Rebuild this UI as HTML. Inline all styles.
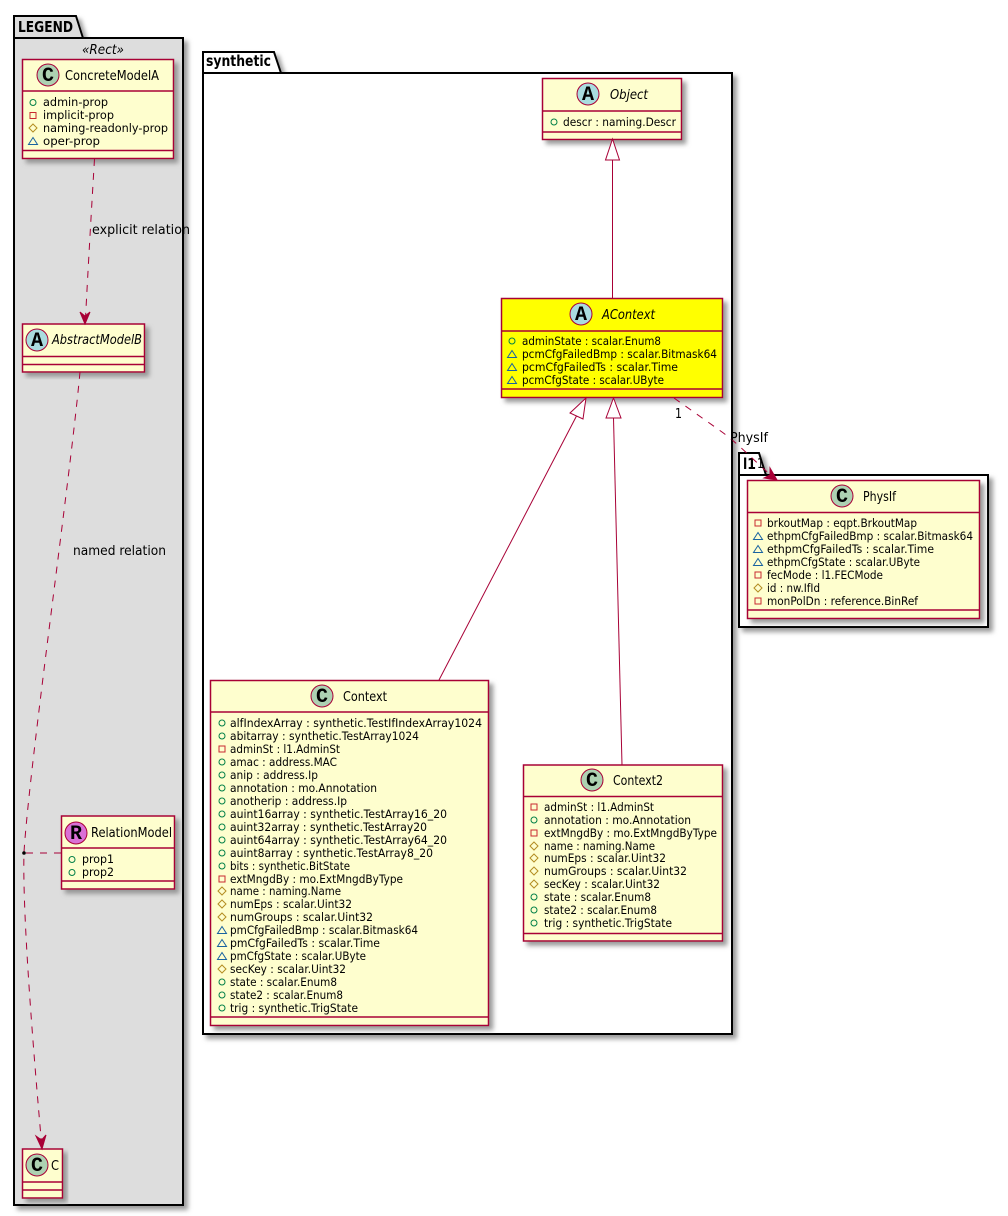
<!DOCTYPE html>
<html><head><meta charset="utf-8"><style>
html,body{margin:0;padding:0;background:#fff;width:1008px;height:1216px;overflow:hidden}
svg{display:block}
text{font-family:"DejaVu Sans",sans-serif;fill:#000}
.m text,text.m{font-size:11.500px}
.t{font-size:13.500px}
.i{font-style:italic}
.b{font-weight:bold;font-size:15px}
.cl{fill:#FEFECE;stroke:#A80036;stroke-width:1.5}
.dv{stroke:#A80036;stroke-width:1.5;fill:none}
.ln{stroke:#A80036;stroke-width:1;fill:none}
.da{stroke-dasharray:7 7}
.pk{stroke:#000;stroke-width:2}
.gl{font-family:"Liberation Mono",monospace;font-weight:bold;font-size:20px;text-anchor:middle}
</style></head><body>
<svg width="1008" height="1216" viewBox="0 0 1008 1216" xmlns="http://www.w3.org/2000/svg">
<defs>
<filter id="s" x="-10%" y="-10%" width="125%" height="125%"><feGaussianBlur in="SourceAlpha" stdDeviation="2.500"/><feOffset dx="4" dy="4"/><feColorMatrix type="matrix" values="0 0 0 0 0.25 0 0 0 0 0.25 0 0 0 0 0.25 0 0 0 0.85 0"/><feMerge><feMergeNode/><feMergeNode in="SourceGraphic"/></feMerge></filter>
<g id="p"><circle r="3" fill="none" stroke="#038048"/></g>
<g id="q"><rect x="-3" y="-3" width="6" height="6" fill="none" stroke="#C82930"/></g>
<g id="h"><path d="M0-4L4 0L0 4L-4 0Z" fill="none" stroke="#B38D22"/></g>
<g id="r"><path d="M0-3.5L4.5 3.5H-4.5Z" fill="none" stroke="#1963A0"/></g>
</defs>

<!-- LEGEND -->
<path class="pk" fill="#DDDDDD" filter="url(#s)" d="M14 38V16H76L83 38H183V1205H14Z"/>
<path class="pk" fill="none" d="M14 38H83"/>
<text class="b" x="18" y="32" textLength="55" lengthAdjust="spacingAndGlyphs">LEGEND</text>
<text class="t i" x="82" y="54" textLength="42" lengthAdjust="spacingAndGlyphs">«Rect»</text>

<!-- synthetic -->
<path class="pk" fill="#fff" filter="url(#s)" d="M203 73V52H274L281 73H732V1034H203Z"/>
<path class="pk" fill="none" d="M203 73H281"/>
<text class="b" x="206" y="66" textLength="65" lengthAdjust="spacingAndGlyphs">synthetic</text>

<!-- l1 -->
<path class="pk" fill="#fff" filter="url(#s)" d="M739 475V453H759L766 475H988V627H739Z"/>
<path class="pk" fill="none" d="M739 475H766"/>
<text class="b" x="743" y="469" textLength="13" lengthAdjust="spacingAndGlyphs">l1</text>

<!-- ConcreteModelA -->
<g filter="url(#s)"><rect class="cl" x="22.5" y="59.5" width="151" height="99"/></g>
<path class="dv" d="M22.5 91H173.500M22.500 150.500H173.500"/>
<circle cx="48" cy="75" r="11" fill="#ADD1B2" stroke="#A80036"/><text class="gl" x="48" y="81">C</text>
<text class="t" x="65" y="80" textLength="94" lengthAdjust="spacingAndGlyphs">ConcreteModelA</text>
<g class="m">
<use href="#p" x="33" y="102.500"/><text x="43" y="106" textLength="65" lengthAdjust="spacingAndGlyphs">admin-prop</text>
<use href="#q" x="33" y="115.500"/><text x="43" y="119" textLength="71" lengthAdjust="spacingAndGlyphs">implicit-prop</text>
<use href="#h" x="33" y="128"/><text x="43" y="132" textLength="125" lengthAdjust="spacingAndGlyphs">naming-readonly-prop</text>
<use href="#r" x="33" y="141"/><text x="43" y="145" textLength="57" lengthAdjust="spacingAndGlyphs">oper-prop</text>
</g>

<!-- AbstractModelB -->
<g filter="url(#s)"><rect class="cl" x="22.5" y="324" width="122" height="48"/></g>
<path class="dv" d="M22.500 356.500H144.500M22.500 364.500H144.500"/>
<circle cx="37" cy="340" r="11" fill="#A9DCDF" stroke="#A80036"/><text class="gl" x="37" y="346">A</text>
<text class="t i" x="52" y="344" textLength="90" lengthAdjust="spacingAndGlyphs">AbstractModelB</text>

<!-- RelationModel -->
<g filter="url(#s)"><rect class="cl" x="61.500" y="816" width="113" height="73"/></g>
<path class="dv" d="M61.500 848H174.500M61.500 881H174.500"/>
<circle cx="76" cy="833" r="11" fill="#DA70D6" stroke="#A80036"/><text class="gl" x="76" y="839">R</text>
<text class="t" x="91" y="837" textLength="81" lengthAdjust="spacingAndGlyphs">RelationModel</text>
<g class="m">
<use href="#p" x="72" y="859.500"/><text x="82" y="863" textLength="32" lengthAdjust="spacingAndGlyphs">prop1</text>
<use href="#p" x="72" y="872.500"/><text x="82" y="876" textLength="32" lengthAdjust="spacingAndGlyphs">prop2</text>
</g>

<!-- C -->
<g filter="url(#s)"><rect class="cl" x="22.500" y="1149" width="40" height="49"/></g>
<path class="dv" d="M22.500 1182H62.500M22.500 1190H62.500"/>
<circle cx="37" cy="1165" r="11" fill="#ADD1B2" stroke="#A80036"/><text class="gl" x="37" y="1171">C</text>
<text class="t" x="51" y="1170" textLength="8" lengthAdjust="spacingAndGlyphs">C</text>

<!-- Object -->
<g filter="url(#s)"><rect class="cl" x="542.500" y="78.500" width="139" height="61"/></g>
<path class="dv" d="M542.500 111H681.500M542.500 132H681.500"/>
<circle cx="588" cy="94" r="11" fill="#A9DCDF" stroke="#A80036"/><text class="gl" x="588" y="100">A</text>
<text class="t i" x="610" y="99" textLength="38" lengthAdjust="spacingAndGlyphs">Object</text>
<g class="m"><use href="#p" x="554" y="122"/><text x="563" y="126" textLength="113" lengthAdjust="spacingAndGlyphs">descr : naming.Descr</text></g>

<!-- AContext -->
<g filter="url(#s)"><rect x="501.500" y="298.500" width="221" height="99" fill="#FFFF00" stroke="#A80036" stroke-width="1.500"/></g>
<path class="dv" d="M501.500 331H722.500M501.500 389H722.500"/>
<circle cx="581" cy="314" r="11" fill="#A9DCDF" stroke="#A80036"/><text class="gl" x="581" y="320">A</text>
<text class="t i" x="602" y="319" textLength="53" lengthAdjust="spacingAndGlyphs">AContext</text>
<g class="m">
<use href="#p" x="512" y="341"/><text x="522" y="345" textLength="139" lengthAdjust="spacingAndGlyphs">adminState : scalar.Enum8</text>
<use href="#r" x="512" y="354"/><text x="522" y="358" textLength="195" lengthAdjust="spacingAndGlyphs">pcmCfgFailedBmp : scalar.Bitmask64</text>
<use href="#r" x="512" y="367"/><text x="522" y="371" textLength="156" lengthAdjust="spacingAndGlyphs">pcmCfgFailedTs : scalar.Time</text>
<use href="#r" x="512" y="380"/><text x="522" y="384" textLength="142" lengthAdjust="spacingAndGlyphs">pcmCfgState : scalar.UByte</text>
</g>

<!-- Context -->
<g filter="url(#s)"><rect class="cl" x="210.500" y="680.500" width="278" height="345"/></g>
<path class="dv" d="M210.500 712H488.500M210.500 1017H488.500"/>
<circle cx="322" cy="696" r="11" fill="#ADD1B2" stroke="#A80036"/><text class="gl" x="322" y="702">C</text>
<text class="t" x="343" y="701" textLength="44" lengthAdjust="spacingAndGlyphs">Context</text>
<g class="m">
<use href="#p" x="222" y="723"/><text x="230" y="727" textLength="252" lengthAdjust="spacingAndGlyphs">alfIndexArray : synthetic.TestIfIndexArray1024</text>
<use href="#p" x="222" y="736"/><text x="230" y="740" textLength="189" lengthAdjust="spacingAndGlyphs">abitarray : synthetic.TestArray1024</text>
<use href="#q" x="222" y="749"/><text x="230" y="753" textLength="110" lengthAdjust="spacingAndGlyphs">adminSt : l1.AdminSt</text>
<use href="#p" x="222" y="762"/><text x="230" y="766" textLength="107" lengthAdjust="spacingAndGlyphs">amac : address.MAC</text>
<use href="#p" x="222" y="775"/><text x="230" y="779" textLength="88" lengthAdjust="spacingAndGlyphs">anip : address.Ip</text>
<use href="#p" x="222" y="788"/><text x="230" y="792" textLength="147" lengthAdjust="spacingAndGlyphs">annotation : mo.Annotation</text>
<use href="#p" x="222" y="801"/><text x="230" y="805" textLength="117" lengthAdjust="spacingAndGlyphs">anotherip : address.Ip</text>
<use href="#p" x="222" y="814"/><text x="230" y="818" textLength="217" lengthAdjust="spacingAndGlyphs">auint16array : synthetic.TestArray16_20</text>
<use href="#p" x="222" y="827"/><text x="230" y="831" textLength="197" lengthAdjust="spacingAndGlyphs">auint32array : synthetic.TestArray20</text>
<use href="#p" x="222" y="840"/><text x="230" y="844" textLength="217" lengthAdjust="spacingAndGlyphs">auint64array : synthetic.TestArray64_20</text>
<use href="#p" x="222" y="853"/><text x="230" y="857" textLength="203" lengthAdjust="spacingAndGlyphs">auint8array : synthetic.TestArray8_20</text>
<use href="#p" x="222" y="866"/><text x="230" y="870" textLength="120" lengthAdjust="spacingAndGlyphs">bits : synthetic.BitState</text>
<use href="#q" x="222" y="879"/><text x="230" y="883" textLength="173" lengthAdjust="spacingAndGlyphs">extMngdBy : mo.ExtMngdByType</text>
<use href="#h" x="222" y="891"/><text x="230" y="895" textLength="111" lengthAdjust="spacingAndGlyphs">name : naming.Name</text>
<use href="#h" x="222" y="904"/><text x="230" y="908" textLength="122" lengthAdjust="spacingAndGlyphs">numEps : scalar.Uint32</text>
<use href="#h" x="222" y="917"/><text x="230" y="921" textLength="143" lengthAdjust="spacingAndGlyphs">numGroups : scalar.Uint32</text>
<use href="#r" x="222" y="930"/><text x="230" y="934" textLength="188" lengthAdjust="spacingAndGlyphs">pmCfgFailedBmp : scalar.Bitmask64</text>
<use href="#r" x="222" y="943"/><text x="230" y="947" textLength="150" lengthAdjust="spacingAndGlyphs">pmCfgFailedTs : scalar.Time</text>
<use href="#r" x="222" y="956"/><text x="230" y="960" textLength="136" lengthAdjust="spacingAndGlyphs">pmCfgState : scalar.UByte</text>
<use href="#h" x="222" y="969"/><text x="230" y="973" textLength="116" lengthAdjust="spacingAndGlyphs">secKey : scalar.Uint32</text>
<use href="#p" x="222" y="982"/><text x="230" y="986" textLength="107" lengthAdjust="spacingAndGlyphs">state : scalar.Enum8</text>
<use href="#p" x="222" y="995"/><text x="230" y="999" textLength="113" lengthAdjust="spacingAndGlyphs">state2 : scalar.Enum8</text>
<use href="#p" x="222" y="1008"/><text x="230" y="1012" textLength="128" lengthAdjust="spacingAndGlyphs">trig : synthetic.TrigState</text>
</g>

<!-- Context2 -->
<g filter="url(#s)"><rect class="cl" x="523.500" y="765" width="199" height="176"/></g>
<path class="dv" d="M523.500 796.500H722.500M523.500 933.500H722.500"/>
<circle cx="592" cy="780" r="11" fill="#ADD1B2" stroke="#A80036"/><text class="gl" x="592" y="786">C</text>
<text class="t" x="613" y="785" textLength="50" lengthAdjust="spacingAndGlyphs">Context2</text>
<g class="m">
<use href="#q" x="534" y="807"/><text x="544" y="811" textLength="110" lengthAdjust="spacingAndGlyphs">adminSt : l1.AdminSt</text>
<use href="#p" x="534" y="820"/><text x="544" y="824" textLength="147" lengthAdjust="spacingAndGlyphs">annotation : mo.Annotation</text>
<use href="#q" x="534" y="833"/><text x="544" y="837" textLength="173" lengthAdjust="spacingAndGlyphs">extMngdBy : mo.ExtMngdByType</text>
<use href="#h" x="534" y="846"/><text x="544" y="850" textLength="111" lengthAdjust="spacingAndGlyphs">name : naming.Name</text>
<use href="#h" x="534" y="858"/><text x="544" y="862" textLength="122" lengthAdjust="spacingAndGlyphs">numEps : scalar.Uint32</text>
<use href="#h" x="534" y="871"/><text x="544" y="875" textLength="143" lengthAdjust="spacingAndGlyphs">numGroups : scalar.Uint32</text>
<use href="#h" x="534" y="884"/><text x="544" y="888" textLength="116" lengthAdjust="spacingAndGlyphs">secKey : scalar.Uint32</text>
<use href="#p" x="534" y="897"/><text x="544" y="901" textLength="107" lengthAdjust="spacingAndGlyphs">state : scalar.Enum8</text>
<use href="#p" x="534" y="910"/><text x="544" y="914" textLength="113" lengthAdjust="spacingAndGlyphs">state2 : scalar.Enum8</text>
<use href="#p" x="534" y="923"/><text x="544" y="927" textLength="128" lengthAdjust="spacingAndGlyphs">trig : synthetic.TrigState</text>
</g>

<!-- PhysIf -->
<g filter="url(#s)"><rect class="cl" x="747.500" y="480.500" width="232" height="138"/></g>
<path class="dv" d="M747.500 512.500H979.500M747.500 610H979.500"/>
<circle cx="842" cy="496" r="11" fill="#ADD1B2" stroke="#A80036"/><text class="gl" x="842" y="502">C</text>
<text class="t" x="863" y="501" textLength="33" lengthAdjust="spacingAndGlyphs">PhysIf</text>
<g class="m">
<use href="#q" x="758" y="523"/><text x="767" y="527" textLength="150" lengthAdjust="spacingAndGlyphs">brkoutMap : eqpt.BrkoutMap</text>
<use href="#r" x="758" y="536"/><text x="767" y="540" textLength="206" lengthAdjust="spacingAndGlyphs">ethpmCfgFailedBmp : scalar.Bitmask64</text>
<use href="#r" x="758" y="549"/><text x="767" y="553" textLength="167" lengthAdjust="spacingAndGlyphs">ethpmCfgFailedTs : scalar.Time</text>
<use href="#r" x="758" y="562"/><text x="767" y="566" textLength="153" lengthAdjust="spacingAndGlyphs">ethpmCfgState : scalar.UByte</text>
<use href="#q" x="758" y="575"/><text x="767" y="579" textLength="116" lengthAdjust="spacingAndGlyphs">fecMode : l1.FECMode</text>
<use href="#h" x="758" y="588"/><text x="767" y="592" textLength="53" lengthAdjust="spacingAndGlyphs">id : nw.IfId</text>
<use href="#q" x="758" y="601"/><text x="767" y="605" textLength="151" lengthAdjust="spacingAndGlyphs">monPolDn : reference.BinRef</text>
</g>

<!-- Connectors -->
<path class="ln da" d="M94.500 159C92 200 88 270 85.500 318"/>
<path d="M85 324L80 312L85 316L90 312Z" fill="#A80036" stroke="#A80036"/>
<text class="t" x="92" y="234" textLength="98" lengthAdjust="spacingAndGlyphs">explicit relation</text>

<path class="ln da" d="M80 372C70 480 30 760 24 852C22 920 36 1080 41.500 1143"/>
<path d="M42 1149L36 1136L41.500 1140L46 1135Z" fill="#A80036" stroke="#A80036"/>
<text class="t" x="73" y="555" textLength="93" lengthAdjust="spacingAndGlyphs">named relation</text>
<path class="ln da" d="M61 853H24"/>
<circle cx="24" cy="853" r="1.800" fill="#000"/>

<path class="ln" d="M612.500 160V298"/>
<path d="M612.500 139L605.500 160H619.500Z" fill="#fff" stroke="#A80036"/>

<path class="ln" d="M576.500 416L439 680"/>
<path d="M586 398L570 413L583 419Z" fill="#fff" stroke="#A80036"/>

<path class="ln" d="M613.500 418L622 765"/>
<path d="M613.500 398L606 418H621Z" fill="#fff" stroke="#A80036"/>

<path class="ln da" d="M674 398L722 432C740 445 755 462 772 476"/>
<path d="M777 480L764 478L770 475L770 468Z" fill="#A80036" stroke="#A80036"/>
<text class="t" x="730" y="442" textLength="38" lengthAdjust="spacingAndGlyphs">PhysIf</text>
<text class="t" x="675" y="418" textLength="7" lengthAdjust="spacingAndGlyphs">1</text>
<text class="t" x="757" y="468" textLength="7" lengthAdjust="spacingAndGlyphs">1</text>
</svg>
</body></html>
